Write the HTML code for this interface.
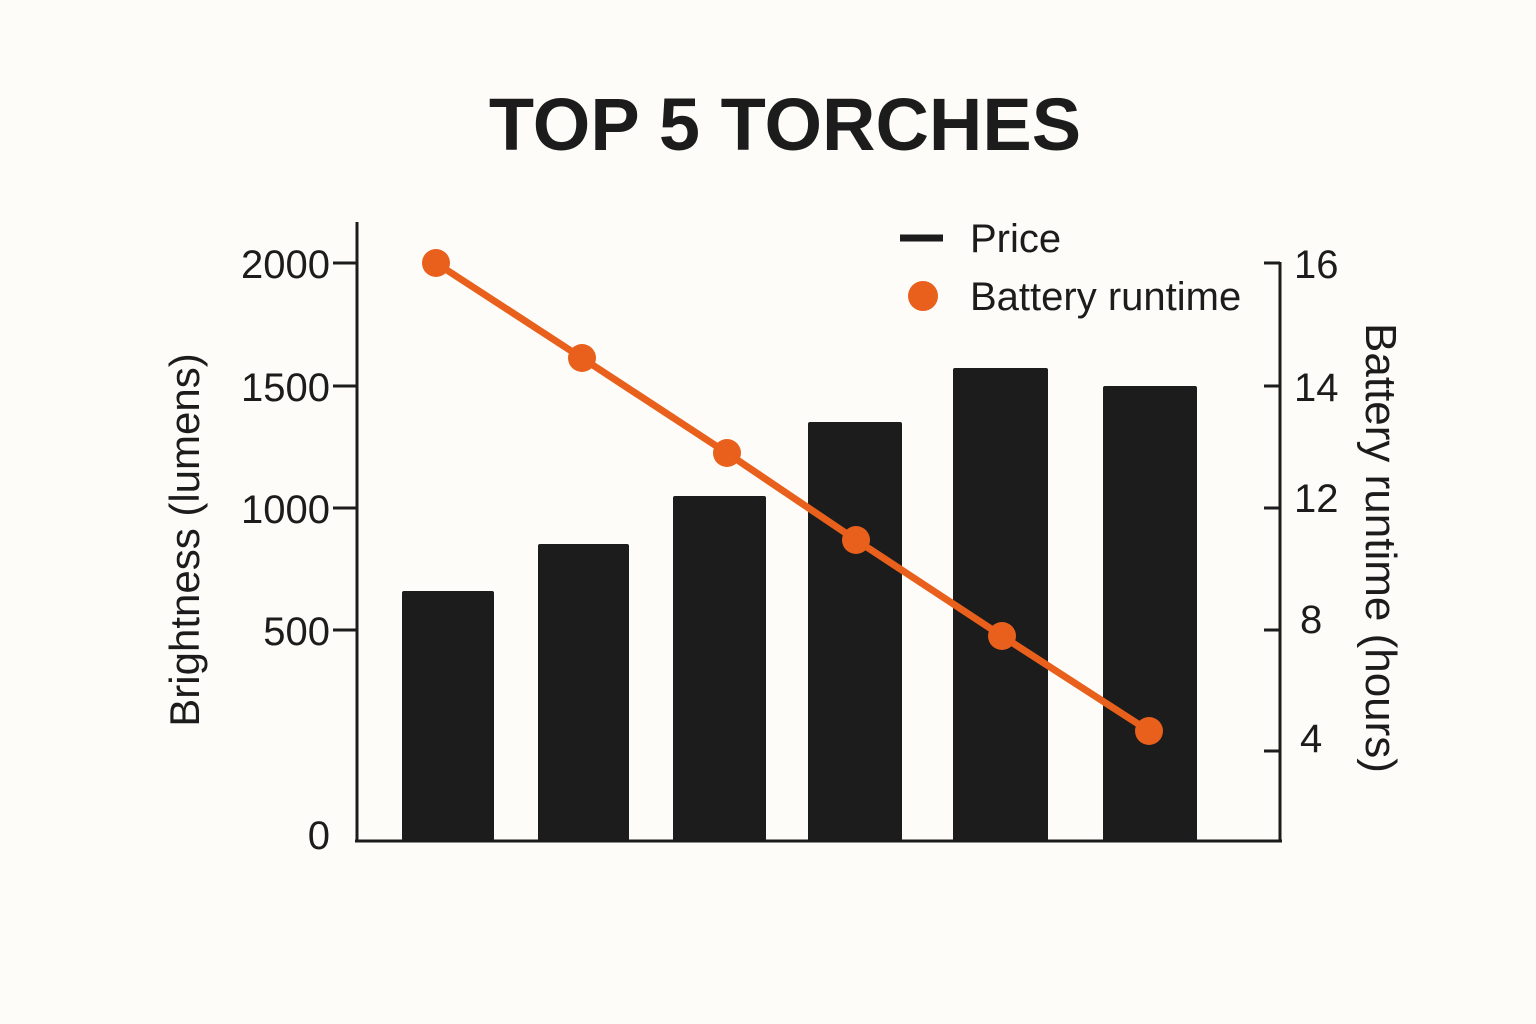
<!DOCTYPE html>
<html><head><meta charset="utf-8"><style>
html,body{margin:0;padding:0;background:#fdfcf8;}
svg{display:block;}
text{font-family:"Liberation Sans","DejaVu Sans",sans-serif;fill:#1c1c1c;}
</style></head><body>
<svg width="1536" height="1024" viewBox="0 0 1536 1024">
<rect width="1536" height="1024" fill="#fdfcf8"/>
<text x="785" y="150" font-size="74" font-weight="bold" text-anchor="middle">TOP 5 TORCHES</text>
<g fill="#1c1c1c">
<rect x="402" y="591" width="92" height="250" rx="2"/>
<rect x="538" y="544" width="91" height="297" rx="2"/>
<rect x="673" y="496" width="93" height="345" rx="2"/>
<rect x="808" y="422" width="94" height="419" rx="2"/>
<rect x="953" y="368" width="95" height="473" rx="2"/>
<rect x="1103" y="386" width="94" height="455" rx="2"/>
</g>
<g stroke="#1c1c1c" stroke-width="3" fill="none">
<line x1="357" y1="222" x2="357" y2="842"/>
<line x1="355" y1="841" x2="1282" y2="841"/>
<line x1="1280" y1="262" x2="1280" y2="842"/>
<line x1="333" y1="263" x2="357" y2="263"/>
<line x1="333" y1="386" x2="357" y2="386"/>
<line x1="333" y1="508" x2="357" y2="508"/>
<line x1="333" y1="630" x2="357" y2="630"/>
<line x1="1264" y1="263" x2="1280" y2="263"/>
<line x1="1264" y1="386" x2="1280" y2="386"/>
<line x1="1264" y1="508" x2="1280" y2="508"/>
<line x1="1264" y1="630" x2="1280" y2="630"/>
<line x1="1264" y1="751" x2="1280" y2="751"/>
</g>
<g font-size="40" text-anchor="end">
<text x="330" y="278">2000</text>
<text x="330" y="401">1500</text>
<text x="330" y="523">1000</text>
<text x="330" y="645">500</text>
<text x="330" y="849">0</text>
</g>
<g font-size="40">
<text x="1294" y="278">16</text>
<text x="1294" y="401">14</text>
<text x="1294" y="512">12</text>
<text x="1300" y="633">8</text>
<text x="1300" y="752">4</text>
</g>
<text transform="translate(199,540) rotate(-90)" font-size="42" text-anchor="middle">Brightness (lumens)</text>
<text transform="translate(1366,548) rotate(90)" font-size="44" text-anchor="middle">Battery runtime (hours)</text>
<polyline points="436,263 582,358 727,453 856,540 1002,636 1149,731" fill="none" stroke="#e8601c" stroke-width="7"/>
<g fill="#e8601c">
<circle cx="436" cy="263" r="14"/>
<circle cx="582" cy="358" r="14"/>
<circle cx="727" cy="453" r="14"/>
<circle cx="856" cy="540" r="14"/>
<circle cx="1002" cy="636" r="14"/>
<circle cx="1149" cy="731" r="14"/>
<circle cx="923" cy="296" r="15"/>
</g>
<line x1="900" y1="238" x2="943" y2="238" stroke="#1c1c1c" stroke-width="7"/>
<text x="970" y="252" font-size="40">Price</text>
<text x="970" y="310" font-size="40">Battery runtime</text>
</svg>
</body></html>
